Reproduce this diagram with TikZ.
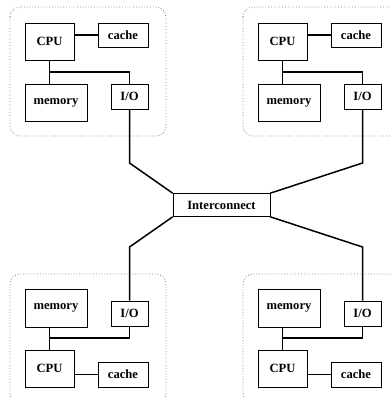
\documentclass[tikz,border=0pt]{standalone}
\usepackage{fontspec}
\setmainfont{Liberation Serif}
\tikzset{
    unit/.style={draw, line width=0.7pt, inner sep=0pt, font=\fontsize{12.6}{14}\selectfont\bfseries},
    wire/.style={-, line width=1.5pt, draw=black},
    group/.style={draw=gray, dotted, line width=0.8pt, rounded corners=10pt},
}
\begin{document}
\begin{tikzpicture}[x=1pt, y=-1pt]
    \useasboundingbox (0,0) rectangle (391,398);
    \clip (0,0) rectangle (391,398);
    % interconnect in the middle
    \node[unit, minimum width=97pt, minimum height=23pt] (ic) at (221.5,205) {Interconnect};
    % upper left node
    \draw[group] (10,7) rectangle (166,136);
    \node[unit, minimum width=49pt, minimum height=37pt] (cpu1) at (49.5,41.5) {CPU};
    \node[unit, minimum width=50pt, minimum height=24pt] (cache1) at (123,35) {cache};
    \node[unit, minimum width=62pt, minimum height=37pt] (mem1) at (56,102.5) {memory};
    \node[unit, minimum width=37pt, minimum height=25pt] (io1) at (129.5,96.5) {I/O};
    \coordinate (bus1) at (50,72);
    \coordinate (bend1) at (129.5,163);
    \draw[wire] (cache1.west) -- (cache1.west -| cpu1.east);
    \draw[wire] (cpu1.south) -- (cpu1.south |- mem1.north);
    \draw[wire] (cpu1.south |- bus1) -| (io1.north);
    \draw[wire] (io1.south) -- (bend1) -- (ic.north west);
    % upper right node
    \begin{scope}[xshift=233pt]
    \draw[group] (10,7) rectangle (166,136);
    \node[unit, minimum width=49pt, minimum height=37pt] (cpu2) at (49.5,41.5) {CPU};
    \node[unit, minimum width=50pt, minimum height=24pt] (cache2) at (123,35) {cache};
    \node[unit, minimum width=62pt, minimum height=37pt] (mem2) at (56,102.5) {memory};
    \node[unit, minimum width=37pt, minimum height=25pt] (io2) at (129.5,96.5) {I/O};
    \coordinate (bus2) at (50,72);
    \coordinate (bend2) at (129.5,163);
    \end{scope}
    \draw[wire] (cache2.west) -- (cache2.west -| cpu2.east);
    \draw[wire] (cpu2.south) -- (cpu2.south |- mem2.north);
    \draw[wire] (cpu2.south |- bus2) -| (io2.north);
    \draw[wire] (io2.south) -- (bend2) -- (ic.north east);
    % lower left node
    \draw[group] (10,274) rectangle (166,404);
    \node[unit, minimum width=62pt, minimum height=38pt] (mem3) at (56,308) {memory};
    \node[unit, minimum width=37pt, minimum height=25pt] (io3) at (129.5,313.5) {I/O};
    \node[unit, minimum width=49pt, minimum height=37pt] (cpu3) at (49.5,368.5) {CPU};
    \node[unit, minimum width=50pt, minimum height=25pt] (cache3) at (123,374.5) {cache};
    \coordinate (bus3) at (50,338);
    \coordinate (bend3) at (129.5,247);
    \draw[wire] (cache3.west) -- (cache3.west -| cpu3.east);
    \draw[wire] (cpu3.north) -- (cpu3.north |- mem3.south);
    \draw[wire] (cpu3.north |- bus3) -| (io3.south);
    \draw[wire] (io3.north) -- (bend3) -- (ic.south west);
    % lower right node
    \begin{scope}[xshift=233pt]
    \draw[group] (10,274) rectangle (166,404);
    \node[unit, minimum width=62pt, minimum height=38pt] (mem4) at (56,308) {memory};
    \node[unit, minimum width=37pt, minimum height=25pt] (io4) at (129.5,313.5) {I/O};
    \node[unit, minimum width=49pt, minimum height=37pt] (cpu4) at (49.5,368.5) {CPU};
    \node[unit, minimum width=50pt, minimum height=25pt] (cache4) at (123,374.5) {cache};
    \coordinate (bus4) at (50,338);
    \coordinate (bend4) at (129.5,247);
    \end{scope}
    \draw[wire] (cache4.west) -- (cache4.west -| cpu4.east);
    \draw[wire] (cpu4.north) -- (cpu4.north |- mem4.south);
    \draw[wire] (cpu4.north |- bus4) -| (io4.south);
    \draw[wire] (io4.north) -- (bend4) -- (ic.south east);
\end{tikzpicture}
\end{document}
